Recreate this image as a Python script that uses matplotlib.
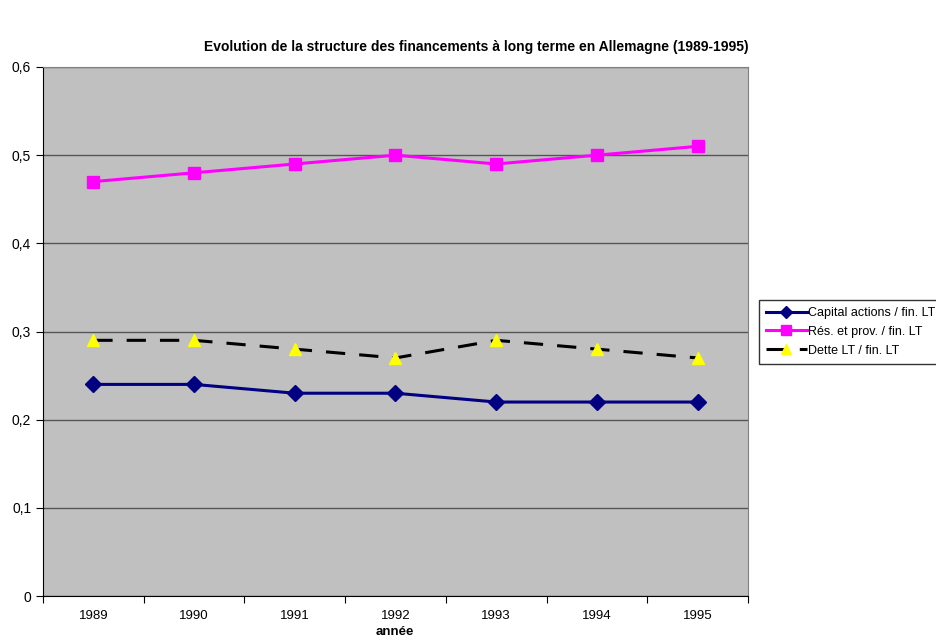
import numpy as np
import matplotlib
matplotlib.use("Agg")
from matplotlib import pyplot as plt
from matplotlib.ticker import FuncFormatter

years = ["1989", "1990", "1991", "1992", "1993", "1994", "1995"]
capital = [0.24, 0.24, 0.23, 0.23, 0.22, 0.22, 0.22]
reserves = [0.47, 0.48, 0.49, 0.50, 0.49, 0.50, 0.51]
dette = [0.29, 0.29, 0.28, 0.27, 0.29, 0.28, 0.27]

plt.rcParams['font.family'] = ['Liberation Sans', 'DejaVu Sans']

fig = plt.figure(figsize=(9.37, 6.41), dpi=100)
ax = fig.add_axes([43 / 937, 1 - 596 / 641, 705 / 937, 529 / 641])
ax.set_facecolor("#c0c0c0")

x = np.arange(len(years))
ax.plot(x, capital, color="#000080", lw=2.2, marker="D", ms=8,
        label="Capital actions / fin. LT", zorder=3)
ax.plot(x, reserves, color="#ff00ff", lw=2.2, marker="s", ms=8.5,
        label="Rés. et prov. / fin. LT", zorder=3)
ax.plot(x, dette, color="black", lw=2.2, ls=(0, (6.3, 4.6)), marker="^", ms=9,
        mfc="yellow", mec="yellow", label="Dette LT / fin. LT", zorder=3)

ax.set_xlim(-0.5, len(years) - 0.5)
ax.set_ylim(0, 0.6)
ax.set_yticks(np.arange(0, 0.61, 0.1))
ax.yaxis.set_major_formatter(FuncFormatter(
    lambda v, p: "0" if abs(v) < 1e-9 else ("%.1f" % v).replace(".", ",")))
ax.set_xticks(np.arange(-0.5, len(years), 1.0))
ax.set_xticklabels([])
ax.set_xticks(x, minor=True)
ax.set_xticklabels(years, minor=True)
ax.tick_params(axis="x", which="minor", length=0, pad=10, labelsize=9.5)
ax.tick_params(axis="x", which="major", length=5, direction="out")
ax.tick_params(axis="y", length=5, labelsize=10)
ax.yaxis.grid(True, color="#555555", lw=1)
ax.set_axisbelow(True)

for s in ["top", "right"]:
    ax.spines[s].set_color("#808080")
for s in ["left", "bottom"]:
    ax.spines[s].set_color("black")

fig.text(395 / 937, 1 - 632 / 641, "année", fontsize=9.5, fontweight="bold",
         ha="center", va="center")
fig.text(476 / 937, 1 - 47 / 641,
         "Evolution de la structure des financements à long terme en Allemagne (1989-1995)",
         fontsize=10, fontweight="bold", ha="center", va="center")

leg = ax.legend(loc="upper left", bbox_to_anchor=(759 / 937, 1 - 300 / 641),
                bbox_transform=fig.transFigure, fontsize=9, frameon=True,
                fancybox=False, edgecolor="black", borderpad=0.55,
                handlelength=3.3, handletextpad=0.1, labelspacing=0.55,
                borderaxespad=0, markerscale=0.8)
leg.get_frame().set_linewidth(1)

fig.savefig("out.png", dpi=100, facecolor="white")
